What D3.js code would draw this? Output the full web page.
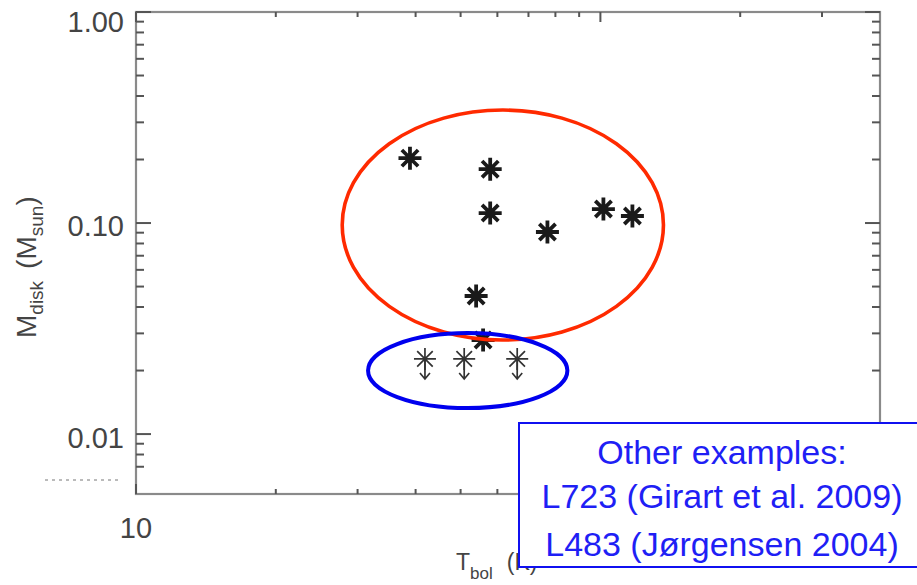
<!DOCTYPE html>
<html>
<head>
<meta charset="utf-8">
<script src="https://cdn.jsdelivr.net/npm/d3@7"></script>
<style>
  body { margin: 0; background: #fff; }
  svg { display: block; font-family: "Liberation Sans", Helvetica, Arial, sans-serif; }
</style>
</head>
<body>
<svg id="canvas"></svg>
<script>
// detections (T_bol in K, M_disk in Msun)
const tbolDetections = [38.9, 57.9, 57.9, 76.9, 101.5, 117.2, 54.0, 55.9]
const mdiskDetections = [0.203, 0.180, 0.1115, 0.0907, 0.1165, 0.108, 0.0451, 0.0279]
// upper limits
const tbolLimits = [41.9, 50.9, 66.2]
const mdiskLimits = [0.0227, 0.0227, 0.0227]

// tick values / labels (the 100 label sits under the note box, so only 10 shows)
const xMajorTicks = [10, 100]
const xLabelTicks = [10]
const xLabels = ['10']
const xMinorTicks = [20, 30, 40, 50, 60, 70, 80, 90, 200, 300]
const yMajorTicks = [1.0, 0.1, 0.01]
const yMajorLabels = ['1.00', '0.10', '0.01']
const yMinorTicks = [0.9, 0.8, 0.7, 0.6, 0.5, 0.4, 0.3, 0.2,
                     0.09, 0.08, 0.07, 0.06, 0.05, 0.04, 0.03, 0.02,
                     0.009, 0.008, 0.007]

// annotation ellipses, given by their data-space bounds [tMin, tMax, mMin, mMax]
const redGroup = [27.8, 136.7, 0.0279, 0.343]
const blueGroup = [31.6, 84.9, 0.01328, 0.0301]

const noteLines = ['Other examples:', 'L723 (Girart et al. 2009)', 'L483 (Jørgensen 2004)']

let width = 917
let height = 585
let svg = d3.select('#canvas').attr('width', width).attr('height', height)

let padLeft = 136, padRight = 880, padTop = 12, padBottom = 494

let xScale = d3.scaleLog().domain([10, 400]).range([padLeft, padRight])
let yScale = d3.scaleLog().domain([0.0052, 1]).range([padBottom, padTop])

// frame
svg.append('rect')
    .attr('x', padLeft).attr('y', padTop)
    .attr('width', padRight - padLeft).attr('height', padBottom - padTop)
    .attr('fill', 'none')
    .attr('stroke', '#8a8a8a')
    .attr('stroke-width', 2.2)

let ticks = svg.append('g').attr('stroke', '#555').attr('stroke-width', 2)

// x ticks, bottom and top
const drawXTicks = (vals, len) => {
    vals.forEach(v => {
        let x = xScale(v)
        ticks.append('line').attr('x1', x).attr('x2', x).attr('y1', padBottom).attr('y2', padBottom - len)
        ticks.append('line').attr('x1', x).attr('x2', x).attr('y1', padTop).attr('y2', padTop + len)
    })
}
drawXTicks(xMinorTicks, 5)
drawXTicks(xMajorTicks, 10)

// y ticks, left and right
const drawYTicks = (vals, len) => {
    vals.forEach(v => {
        let y = yScale(v)
        ticks.append('line').attr('x1', padLeft).attr('x2', padLeft + len).attr('y1', y).attr('y2', y)
        ticks.append('line').attr('x1', padRight).attr('x2', padRight - len).attr('y1', y).attr('y2', y)
    })
}
drawYTicks(yMinorTicks, 8)
drawYTicks(yMajorTicks, 15)

// tick labels
svg.selectAll('.ylab')
    .data(yMajorTicks)
    .enter()
    .append('text')
    .attr('class', 'ylab')
    .attr('x', padLeft - 12)
    .attr('y', (d) => Math.max(yScale(d) + 3, 22))
    .attr('dy', '0.36em')
    .attr('text-anchor', 'end')
    .attr('font-size', 29)
    .attr('fill', '#444')
    .text((d, i) => yMajorLabels[i])

svg.selectAll('.xlab')
    .data(xLabelTicks)
    .enter()
    .append('text')
    .attr('class', 'xlab')
    .attr('x', (d) => xScale(d))
    .attr('y', 538)
    .attr('text-anchor', 'middle')
    .attr('font-size', 29)
    .attr('fill', '#444')
    .text((d, i) => xLabels[i])

// axis titles
let yTitle = svg.append('text')
    .attr('transform', 'translate(36,338) rotate(-90)')
    .attr('font-size', 28)
    .attr('fill', '#444')
yTitle.append('tspan').text('M')
yTitle.append('tspan').attr('font-size', 19).attr('dy', 7).text('disk')
yTitle.append('tspan').attr('dy', -7).attr('dx', 12).text('(M')
yTitle.append('tspan').attr('font-size', 19).attr('dy', 7).text('sun')
yTitle.append('tspan').attr('dy', -7).text(')')

let xTitle = svg.append('text')
    .attr('x', 456).attr('y', 570)
    .attr('font-size', 23)
    .attr('fill', '#444')
xTitle.append('tspan').text('T')
xTitle.append('tspan').attr('font-size', 17).attr('dy', 9).text('bol')
xTitle.append('tspan').attr('dy', -9).attr('dx', 14).text('(K)')

// leftover dotted mark at the left margin
svg.append('line')
    .attr('x1', 45).attr('x2', 119).attr('y1', 480).attr('y2', 480)
    .attr('stroke', '#777').attr('stroke-width', 1)
    .attr('stroke-dasharray', '3,4')

// asterisk path
const asterisk = (cx, cy, r) => {
    let p = d3.path()
    for (let k = 0; k < 4; k++) {
        let a = k * Math.PI / 4
        p.moveTo(cx - r * Math.cos(a), cy - r * Math.sin(a))
        p.lineTo(cx + r * Math.cos(a), cy + r * Math.sin(a))
    }
    return p.toString()
}

// detections
svg.selectAll('.det')
    .data(tbolDetections)
    .enter()
    .append('path')
    .attr('class', 'det')
    .attr('d', (d, i) => asterisk(xScale(d), yScale(mdiskDetections[i]), 11.5))
    .attr('stroke', '#1a1a1a')
    .attr('stroke-width', 3.8)
    .attr('fill', 'none')

// upper limits with arrows
let lim = svg.selectAll('.lim')
    .data(tbolLimits)
    .enter()
    .append('g')
    .attr('class', 'lim')
    .attr('stroke', '#333')
    .attr('stroke-width', 1.7)
    .attr('fill', 'none')
lim.append('path')
    .attr('d', (d, i) => asterisk(xScale(d), yScale(mdiskLimits[i]), 11))
lim.append('path')
    .attr('d', (d, i) => {
        let x = xScale(d), y = yScale(mdiskLimits[i])
        return 'M' + x + ',' + y + 'V' + (y + 20) +
            'M' + (x - 5) + ',' + (y + 14) + 'L' + x + ',' + (y + 20) + 'L' + (x + 5) + ',' + (y + 14)
    })

// ellipses
const drawEllipse = (b, color, sw) => {
    let x0 = xScale(b[0]), x1 = xScale(b[1]), y0 = yScale(b[3]), y1 = yScale(b[2])
    svg.append('ellipse')
        .attr('cx', (x0 + x1) / 2).attr('cy', (y0 + y1) / 2)
        .attr('rx', (x1 - x0) / 2).attr('ry', (y1 - y0) / 2)
        .attr('fill', 'none')
        .attr('stroke', color)
        .attr('stroke-width', sw)
}
drawEllipse(redGroup, '#ff2a00', 3.6)
drawEllipse(blueGroup, '#0000ee', 4)

// note box
svg.append('rect')
    .attr('x', 519).attr('y', 423)
    .attr('width', 410).attr('height', 144)
    .attr('fill', '#fff')
    .attr('stroke', '#1010f0')
    .attr('stroke-width', 2)

svg.selectAll('.note')
    .data(noteLines)
    .enter()
    .append('text')
    .attr('class', 'note')
    .attr('x', 722)
    .attr('y', (d, i) => [464, 508, 556][i])
    .attr('text-anchor', 'middle')
    .attr('font-size', 34)
    .attr('fill', '#1f1ff5')
    .text((d) => d)
</script>
</body>
</html>
